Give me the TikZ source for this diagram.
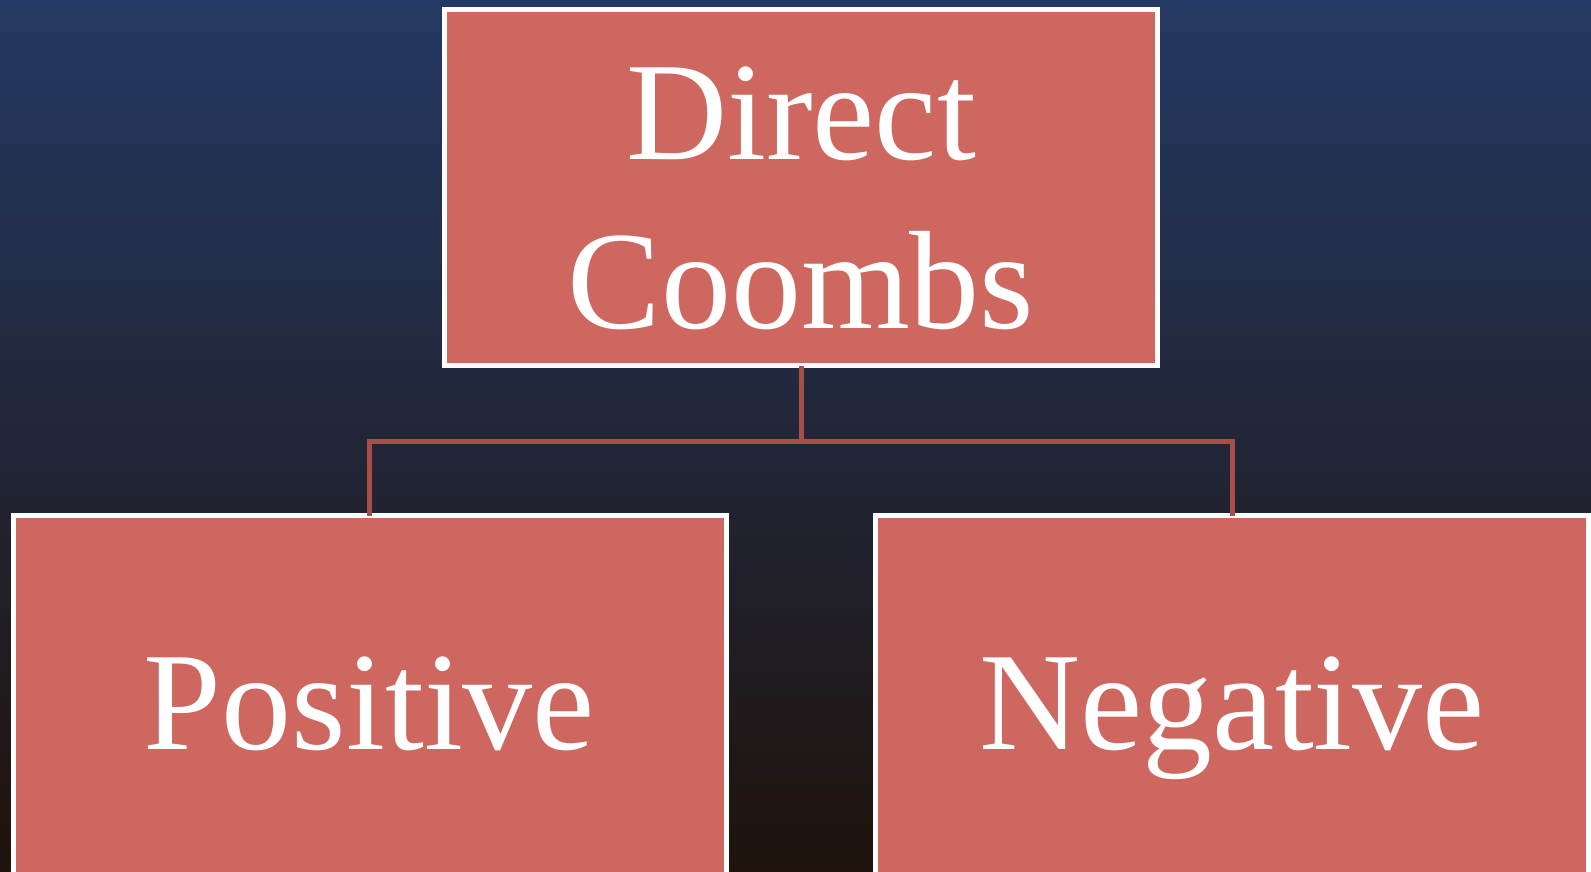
\documentclass[tikz,border=0pt]{standalone}
\usepackage{fontspec}
\setmainfont{Liberation Serif}
\definecolor{bgtop}{RGB}{36,57,99}
\definecolor{bgmid}{RGB}{33,37,60}
\definecolor{bgbot}{RGB}{31,19,12}
\definecolor{boxfill}{RGB}{205,103,96}
\definecolor{connclr}{RGB}{168,78,72}
\tikzset{
  boxnode/.style={draw=white, line width=5pt, fill=boxfill, rectangle,
    minimum width=713pt, inner sep=0pt, outer sep=0pt},
  lbl/.style={text=white, inner sep=0pt, outer sep=0pt,
    font=\fontsize{140}{168}\selectfont},
  conn/.style={draw=connclr, line width=5pt, line join=miter}
}
\begin{document}
\begin{tikzpicture}[x=1pt,y=-1pt]
\useasboundingbox (0,0) rectangle (1591,871);
\clip (0,0) rectangle (1591,871);
\shade[top color=bgtop, middle color=bgmid, bottom color=bgbot] (0,0) rectangle (1591,871);
% boxes
\node[boxnode, minimum height=356pt] (top) at (801,187.5) {};
\node[boxnode, minimum height=375pt] (left) at (369.5,703) {};
\node[boxnode, minimum height=375pt] (right) at (1232.3,703) {};
% texts
\node[lbl, anchor=base] (t1) at (801,159) {Direct};
\node[lbl, anchor=base] (t2) at (801,328) {Coombs};
\node[lbl, anchor=base] (pos) at (369.5,749.3) {Positive};
\node[lbl, anchor=base] (neg) at (1232.3,749.3) {Negative};
% connectors
\coordinate (mid) at (801,441);
\draw[conn] (top.south) -- (mid);
\draw[conn] (left.north) |- (mid) -| (right.north);
\end{tikzpicture}
\end{document}
